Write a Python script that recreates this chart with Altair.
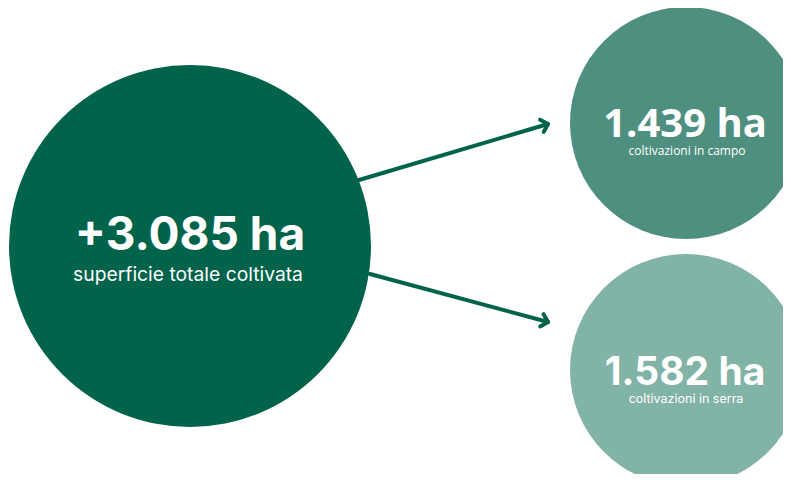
import math
import altair as alt
import pandas as pd

# ---- data ----
values = ["+3.085 ha", "1.439 ha", "1.582 ha"]
labels = ["superficie totale coltivata", "coltivazioni in campo", "coltivazioni in serra"]

# ---- layout (page pixels) ----
W, H = 775, 466
circle_cx = [190, 686, 686]
circle_cy = [246, 123, 370]
circle_r = [181, 116, 116]
circle_color = ["#00634A", "#4E8F7F", "#82B3A7"]
value_y = [250, 137, 385]
label_y = [281, 155, 403]
value_x = [190, 685, 685]
label_x = [188, 687, 686]
value_font = ["Inter", "Open Sans", "Inter"]
value_size = [46, 40, 39]
label_font = ["Inter", "Open Sans", "Inter"]
label_size = [19.3, 12, 12.5]

arrow_x = [359, 370]
arrow_y = [180, 274]
arrow_x2 = [548, 548]
arrow_y2 = [124, 322]

X = alt.X("x:Q", scale=alt.Scale(domain=[8, 8 + W]), axis=None)
Y = alt.Y("y:Q", scale=alt.Scale(domain=[8, 8 + H], reverse=True), axis=None)

circles = pd.DataFrame({
    "x": circle_cx, "y": circle_cy,
    # Vega circle symbol: radius = sqrt(size) / 2
    "area": [(2 * r) ** 2 for r in circle_r],
    "color": circle_color,
})
circle_layer = alt.Chart(circles).mark_circle(opacity=1).encode(
    x=X, y=Y,
    size=alt.Size("area:Q", scale=None),
    color=alt.Color("color:N", scale=None),
)

arrows = pd.DataFrame({"x": arrow_x, "y": arrow_y, "x2": arrow_x2, "y2": arrow_y2})
arrows["angle"] = [
    (math.degrees(math.atan2(y2 - y, x2 - x)) + 360) % 360
    for x, y, x2, y2 in zip(arrow_x, arrow_y, arrow_x2, arrow_y2)
]
line_layer = alt.Chart(arrows).mark_rule(
    color="#00634A", strokeWidth=4, strokeCap="round"
).encode(x=X, y=Y, x2="x2:Q", y2="y2:Q")
head_layer = alt.Chart(arrows).mark_point(
    shape="M-0.9,-0.9L0,0L-0.9,0.9", filled=False, stroke="#00634A",
    strokeWidth=4, strokeCap="round", strokeJoin="round", size=200, opacity=1,
).encode(
    x=alt.X("x2:Q", scale=alt.Scale(domain=[8, 8 + W]), axis=None),
    y=alt.Y("y2:Q", scale=alt.Scale(domain=[8, 8 + H], reverse=True), axis=None),
    angle=alt.Angle("angle:Q", scale=None),
)

text_layers = []
for i in range(3):
    df_v = pd.DataFrame({"x": [value_x[i]], "y": [value_y[i]], "t": [values[i]]})
    df_l = pd.DataFrame({"x": [label_x[i]], "y": [label_y[i]], "t": [labels[i]]})
    text_layers.append(
        alt.Chart(df_v).mark_text(
            font=value_font[i], fontSize=value_size[i], fontWeight="bold",
            color="white", align="center", baseline="alphabetic",
        ).encode(x=X, y=Y, text="t:N")
    )
    text_layers.append(
        alt.Chart(df_l).mark_text(
            font=label_font[i], fontSize=label_size[i], fontWeight="normal",
            color="white", align="center", baseline="alphabetic",
        ).encode(x=X, y=Y, text="t:N")
    )

chart = alt.layer(circle_layer, line_layer, head_layer, *text_layers).properties(
    width=W, height=H, padding=0, autosize=alt.AutoSizeParams(type="none"),
).configure_view(stroke=None)

chart.save("out.html", embed_options={"renderer": "svg", "actions": False})
